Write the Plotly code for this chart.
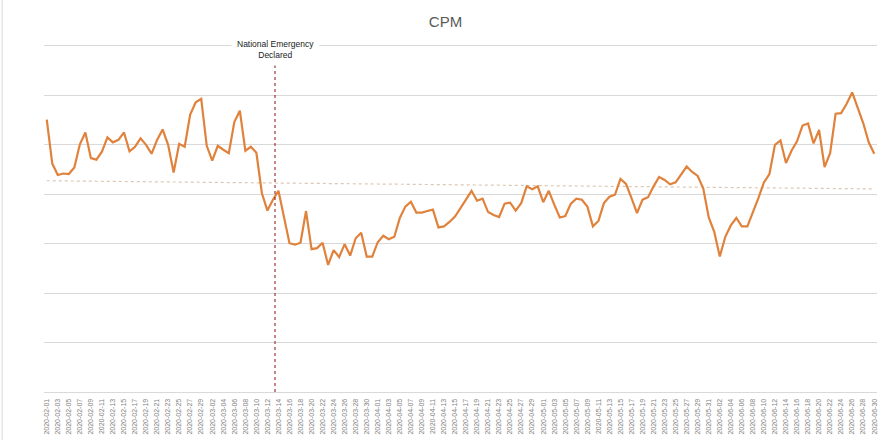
import numpy as np
import pandas as pd
import plotly.graph_objects as go

dates = pd.date_range("2020-02-01", "2020-06-30", freq="D")

cpm = [
    5.51, 4.62, 4.39, 4.42, 4.41, 4.54, 5.01, 5.25, 4.73, 4.70,
    4.86, 5.15, 5.05, 5.10, 5.25, 4.87, 4.96, 5.13, 5.00, 4.82,
    5.10, 5.31, 5.00, 4.44, 5.02, 4.96, 5.61, 5.86, 5.93, 4.98,
    4.68, 4.98, 4.90, 4.83, 5.46, 5.69, 4.88, 4.96, 4.84, 4.02,
    3.67, 3.89, 4.07, 3.52, 3.01, 2.98, 3.02, 3.66, 2.89, 2.91,
    3.02, 2.57, 2.87, 2.73, 2.99, 2.76, 3.11, 3.22, 2.74, 2.74,
    3.03, 3.16, 3.09, 3.14, 3.52, 3.75, 3.85, 3.63, 3.63, 3.66,
    3.69, 3.33, 3.35, 3.44, 3.55, 3.72, 3.89, 4.07, 3.87, 3.91,
    3.64, 3.58, 3.54, 3.81, 3.83, 3.67, 3.82, 4.16, 4.10, 4.16,
    3.84, 4.07, 3.79, 3.53, 3.56, 3.81, 3.91, 3.89, 3.75, 3.35,
    3.46, 3.82, 3.95, 3.99, 4.31, 4.21, 3.92, 3.62, 3.89, 3.94,
    4.16, 4.35, 4.29, 4.20, 4.24, 4.39, 4.56, 4.45, 4.37, 4.12,
    3.53, 3.24, 2.74, 3.14, 3.37, 3.52, 3.35, 3.35, 3.63, 3.92,
    4.24, 4.41, 5.00, 5.09, 4.63, 4.88, 5.07, 5.39, 5.43, 5.03,
    5.30, 4.55, 4.83, 5.63, 5.64, 5.83, 6.06, 5.74, 5.44, 5.05,
    4.82,
]

event_date = pd.Timestamp("2020-03-13 09:00")
event_label = "National Emergency<br>Declared"
tick_dates = dates[::2]
tick_text = [d.strftime("%Y-%m-%d") for d in tick_dates]

# linear trendline (as in the spreadsheet chart)
idx = np.arange(len(cpm))
slope, intercept = np.polyfit(idx, cpm, 1)
trend = slope * idx + intercept

fig = go.Figure()
fig.add_trace(go.Scatter(
    x=dates, y=trend, mode="lines",
    line=dict(color="#dcc7b4", width=1.2, dash="dot"),
    hoverinfo="skip", showlegend=False,
))
fig.add_trace(go.Scatter(
    x=dates, y=cpm, mode="lines",
    line=dict(color="#e0823c", width=2.2),
    showlegend=False,
))

fig.add_shape(
    type="line", xref="x", yref="y",
    x0=event_date, x1=event_date, y0=0, y1=6.66,
    line=dict(color="#8b1010", width=1, dash="dot"),
)
fig.add_annotation(
    x=event_date, xref="x", y=7, yref="y", yanchor="middle",
    yshift=-4, text=event_label, showarrow=False,
    font=dict(family="Liberation Sans, Arial, sans-serif", size=8.5, color="#222222"),
    bgcolor="white", borderpad=5,
)
# chart area border on the left
fig.add_shape(
    type="line", xref="paper", yref="paper",
    x0=-0.0503, x1=-0.0503, y0=-0.14, y1=1.14,
    line=dict(color="#d9d9d9", width=1),
)

fig.update_layout(
    width=891, height=440,
    margin=dict(l=44, r=14, t=41, b=48, autoexpand=False),
    paper_bgcolor="white", plot_bgcolor="white",
    title=dict(
        text="CPM", x=0.5, xref="container", xanchor="center",
        y=1 - 22 / 440, yref="container", yanchor="middle",
        font=dict(family="Liberation Sans, Arial, sans-serif", size=15, color="#595959"),
    ),
    font=dict(family="Liberation Sans, Arial, sans-serif"),
)
fig.update_xaxes(
    range=[dates[0] - pd.Timedelta(hours=12), dates[-1] + pd.Timedelta(hours=12)],
    tickmode="array", tickvals=tick_dates, ticktext=tick_text,
    tickangle=-90, tickfont=dict(size=7, color="#7f7f7f"),
    ticks="", showgrid=False, showline=True, linecolor="#d9d9d9", linewidth=1,
    zeroline=False, automargin=False, ticklabelstandoff=3,
)
fig.update_yaxes(
    range=[0, 7.1], tickvals=[1, 2, 3, 4, 5, 6, 7], showticklabels=False, ticks="",
    showgrid=True, gridcolor="#d9d9d9", gridwidth=1, zeroline=False,
    showline=False, automargin=False,
)

fig.write_html("out.html")
